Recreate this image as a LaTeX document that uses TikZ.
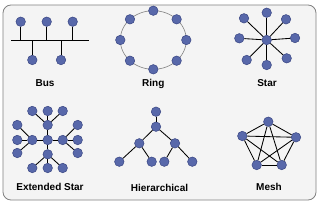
\documentclass[tikz,border=0pt]{standalone}
\usepackage{fontspec}
\setmainfont{Liberation Sans}
\begin{document}
\begin{tikzpicture}[x=1pt,y=-1pt,
  nd/.style={circle,fill=nodeblue,draw=nodeedge,line width=0.5pt,minimum size=9.5pt,inner sep=0pt},
  ln/.style={draw=black,line width=0.85pt},
  lbl/.style={font=\bfseries\fontsize{10}{12}\selectfont,anchor=base,inner sep=0pt}]
\definecolor{nodeblue}{RGB}{88,104,170}
\definecolor{nodeedge}{RGB}{55,68,130}
\definecolor{panel}{RGB}{244,244,244}
\definecolor{frame}{RGB}{130,130,130}
\useasboundingbox (0,0) rectangle (320,206);
\fill[white] (0,0) rectangle (320,206);
\draw[frame,fill=panel,line width=0.8pt,rounded corners=8pt] (3,5) rectangle (316,200);
% ---- Bus
\coordinate (busL) at (11,40);
\coordinate (busR) at (89,40);
\draw[ln] (busL) -- (busR);
\foreach \i/\x/\y in {1/20.7/21.7,2/46.7/21.7,3/72.7/21.7,4/32.3/60,5/61/60}{
  \coordinate (bs\i) at (\x,40);
  \node[nd] (b\i) at (\x,\y) {};
  \draw[ln] (b\i) -- (bs\i);
}
\node[lbl] (lbus) at (45,86.7) {Bus};
% ---- Ring
\draw[gray,line width=0.6pt] (153.3,40) ellipse [x radius=33, y radius=29.3];
\foreach \a [count=\i] in {0,45,...,315}{
  \node[nd] (r\i) at ({153.3+33*cos(\a)},{40-29.3*sin(\a)}) {};
}
\node[lbl] (lring) at (153.3,86.7) {Ring};
% ---- Star
\node[nd] (sc) at (266.7,40) {};
\foreach \i/\x/\y in {1/266.7/12.7,2/286/19.3,3/295/38,4/286.7/58.3,5/266.7/65,6/246.7/60,7/239.3/38.3,8/244/18.3}{
  \node[nd] (s\i) at (\x,\y) {};
  \draw[ln] (sc) -- (s\i);
}
\node[lbl] (lstar) at (267,86.7) {Star};
% ---- Extended star
\node[nd] (ec) at (47.7,140) {};
\node[nd] (eu) at (47.7,125) {};
\node[nd] (ed) at (47.7,154.3) {};
\node[nd] (el) at (32.3,140) {};
\node[nd] (er) at (62.7,140) {};
\draw[ln] (eu) -- (ec) -- (ed);
\draw[ln] (el) -- (ec) -- (er);
\foreach \i/\x in {1/32.3,2/47.7,3/62.7}{
  \node[nd] (eu\i) at (\x,111) {};
  \draw[ln] (eu) -- (eu\i);
  \node[nd] (ed\i) at (\x,168) {};
  \draw[ln] (ed) -- (ed\i);
}
\foreach \i/\y in {1/125,2/140,3/153}{
  \node[nd] (el\i) at (17.3,\y) {};
  \draw[ln] (el) -- (el\i);
  \node[nd] (er\i) at (77.7,\y) {};
  \draw[ln] (er) -- (er\i);
}
\node[lbl] (lext) at (50,190) {Extended Star};
% ---- Hierarchical
\node[nd] (h0) at (156,111.7) {};
\node[nd] (h1) at (156,126.7) {};
\node[nd] (h2) at (139.3,143.3) {};
\node[nd] (h3) at (175,143.3) {};
\node[nd] (h4) at (119.3,161.7) {};
\node[nd] (h5) at (151.7,161.7) {};
\node[nd] (h6) at (164.3,161.7) {};
\node[nd] (h7) at (192.3,161.7) {};
\draw[ln] (h0) -- (h1);
\draw[ln] (h1) -- (h2);
\draw[ln] (h1) -- (h3);
\draw[ln] (h2) -- (h4);
\draw[ln] (h2) -- (h5);
\draw[ln] (h3) -- (h6);
\draw[ln] (h3) -- (h7);
\node[lbl] (lhier) at (159.5,191) {Hierarchical};
% ---- Mesh
\node[nd] (m1) at (268.3,121.7) {};
\node[nd] (m2) at (296,137.3) {};
\node[nd] (m3) at (281.7,165) {};
\node[nd] (m4) at (256.7,165) {};
\node[nd] (m5) at (242.3,136) {};
\foreach \a/\b in {1/2,1/3,1/4,1/5,2/3,2/4,2/5,3/4,3/5,4/5}{
  \draw[ln] (m\a) -- (m\b);
}
\node[lbl] (lmesh) at (269,190.7) {Mesh};
\end{tikzpicture}
\end{document}
